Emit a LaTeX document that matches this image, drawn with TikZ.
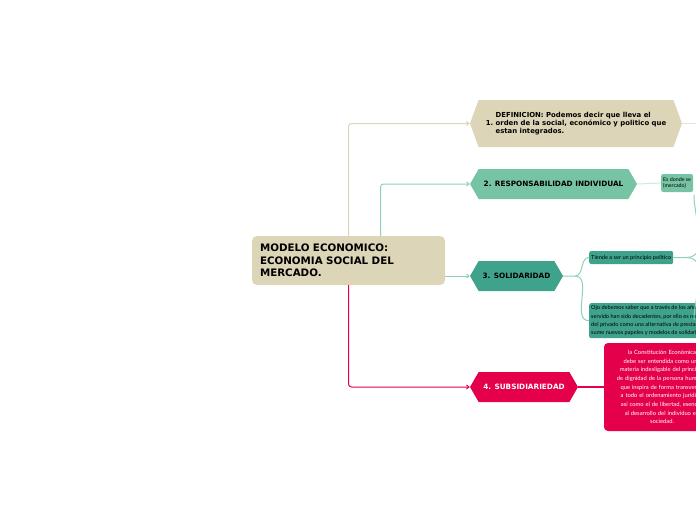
\documentclass[tikz,border=0pt]{standalone}
\usepackage{fontspec}
\setsansfont{DejaVu Sans}
\newfontfamily\leaffont{Lato}
\usetikzlibrary{arrows.meta, positioning, shapes.symbols}
\definecolor{sand}{HTML}{DDD5B8}
\definecolor{sandpale}{HTML}{E9E4D2}
\definecolor{mint}{HTML}{76C4A3}
\definecolor{mintline}{HTML}{8FD1B8}
\definecolor{mintpale}{HTML}{CDEBDD}
\definecolor{sea}{HTML}{3FA38B}
\definecolor{rose}{HTML}{E5004B}
\tikzset{
  root/.style={fill=sand, rounded corners=5pt, minimum width=193pt, minimum height=49pt,
    text width=177pt, align=left, font=\sffamily\bfseries\fontsize{10.3}{12.5}\selectfont},
  topic/.style={signal, signal to=west and east, signal pointer angle=120, fill=#1,
    minimum height=30pt, inner sep=0pt, font=\sffamily\bfseries\fontsize{7.3}{8}\selectfont},
  leaf/.style={fill=#1, rounded corners=2pt, align=left, inner sep=2pt,
    font=\leaffont\fontsize{5.6}{8.3}\selectfont},
  arr/.style={draw=#1, line width=1pt, rounded corners=3pt, -{Straight Barb[length=2.5pt,width=4pt]}},
  twig/.style={draw=#1, line width=1pt},
}
\begin{document}
\begin{tikzpicture}[x=1pt, y=-1pt]
  \clip (0,0) rectangle (696,520);
  \node[root] (model) at (348.5,260.5) {MODELO ECONOMICO:\\ECONOMIA SOCIAL DEL\\MERCADO.};
  % los cuatro temas
  \node[topic=sand, signal pointer angle=140, minimum width=212pt, minimum height=47pt,
    font=\sffamily\bfseries\fontsize{6.9}{8}\selectfont] (defin) at (576,123.5)
    {1.~\begin{tabular}{@{}l@{}}DEFINICION: Podemos decir que lleva el\\orden de la social, económico y politico que\\estan integrados.\end{tabular}};
  \node[topic=mint, minimum width=167pt] (respo) at (553.5,184) {2. RESPONSABILIDAD INDIVIDUAL};
  \node[topic=sea, minimum width=93pt] (solid) at (516.5,276) {3. SOLIDARIDAD};
  \node[topic=rose, minimum width=108pt, text=white] (subsi) at (524,387) {4. SUBSIDIARIEDAD};
  % hojas
  \node[leaf=mint, anchor=west, minimum height=18pt, font=\leaffont\fontsize{5.3}{6.5}\selectfont] (merca) at (661,183) {Es donde se\\(mercado)};
  \node[leaf=sea, anchor=west, minimum height=13pt] (polit) at (589,257.5) {Tiende a ser un principio politico};
  \node[leaf=sea, anchor=north west, minimum height=33pt, inner ysep=2.5pt] (ojo) at (589,303)
    {Ojo debemos saber que a través de los años\\servido han sido decadentes, por ello es necesario\\del privado como una alternativa de prestación\\sume nuevos papeles y modelos de solidaridad};
  \node[leaf=rose, text=white, align=center, text width=112pt, minimum height=88pt, rounded corners=4pt,
    font=\leaffont\fontsize{5.8}{8.7}\selectfont] (const) at (662,387)
    {la Constitución Económica\\debe ser entendida como una\\materia indesligable del principio\\de dignidad de la persona humana,\\que inspira de forma transversal\\a todo el ordenamiento jurídico,\\así como el de libertad, esencial\\al desarrollo del individuo en\\sociedad.};
  % conectores
  \draw[arr=sand] (model.north) |- (defin.west);
  \draw[arr=mintline] ([xshift=32pt]model.north) |- (respo.west);
  \draw[arr=mintline] (model.east |- solid.west) -- (solid.west);
  \draw[arr=rose] (model.south) |- (subsi.west);
  \coordinate (defin-out) at (710,123.5);
  \draw[twig=sandpale] (defin.east) -- (defin-out);
  \draw[twig=mintpale] (respo.east) -- (merca.west);
  \coordinate (solid-fork) at (575,276);
  \draw[twig=mintline] (solid.east) -- (solid-fork) to[out=0, in=180] (polit.west);
  \draw[twig=mintline] (solid-fork) to[out=0, in=180] (ojo.west);
  \coordinate (polit-fork) at (686,257.5);
  \coordinate (polit-up) at (694,195);
  \coordinate (polit-down) at (694,320);
  \draw[twig=mintline] (polit.east) -- (polit-fork) to[out=0, in=-90] (polit-up);
  \draw[twig=mintline] (polit-fork) to[out=0, in=90] (polit-down);
  \draw[twig=rose, line width=2pt] (subsi.east) -- (const.west);
\end{tikzpicture}
\end{document}
